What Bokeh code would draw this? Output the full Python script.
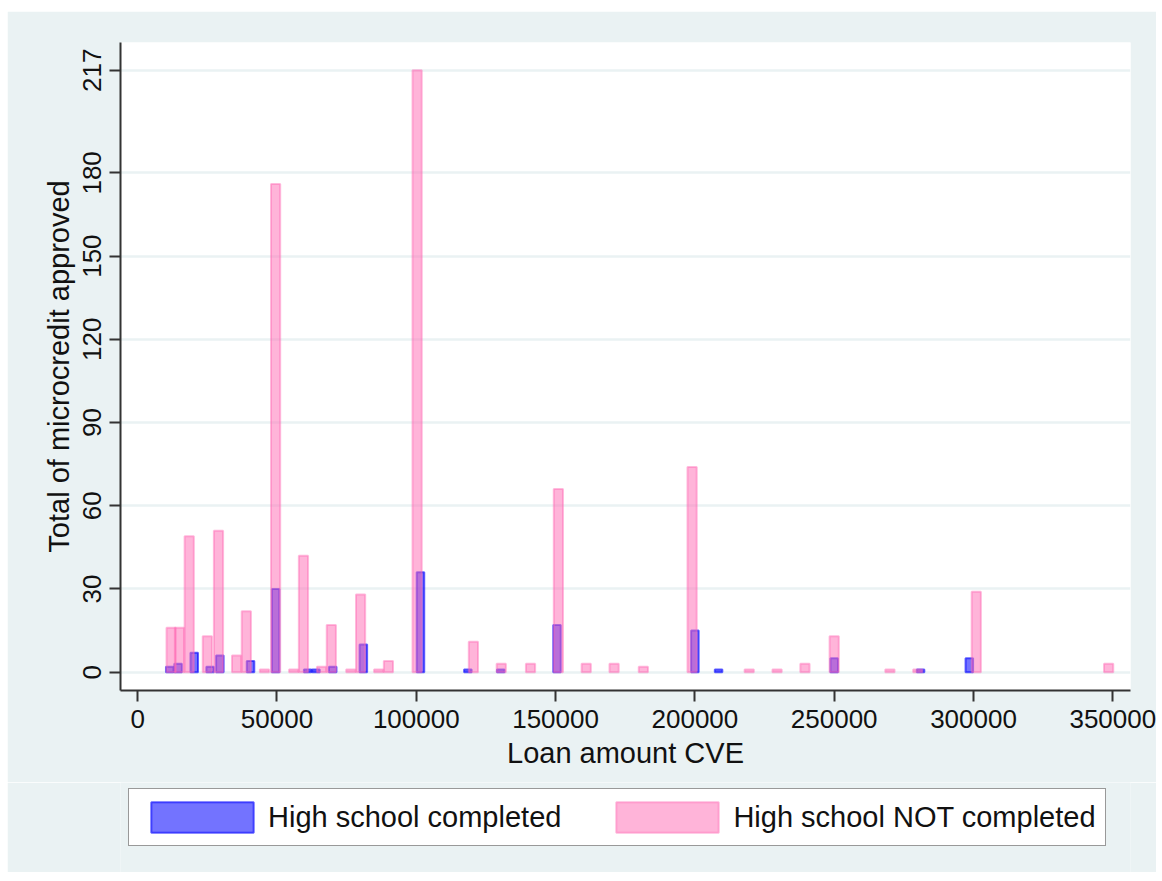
from bokeh.plotting import figure
from bokeh.layouts import column
from bokeh.models import FixedTicker, Legend, LegendItem, Range1d, NumeralTickFormatter
from bokeh.embed import file_html
from bokeh.resources import INLINE

# High school NOT completed (pink)
not_x = [12000, 15000, 18500, 25000, 29000, 35500, 39000, 45500, 49500, 56000,
         59500, 66000, 69500, 76500, 80000, 86500, 90000, 100300, 120500, 130500,
         141000, 151000, 161000, 171000, 181500, 199000, 219500, 229500, 239500,
         250000, 270000, 280000, 301000, 348500]
not_n = [16, 16, 49, 13, 51, 6, 22, 1, 176, 1,
         42, 2, 17, 1, 28, 1, 4, 217, 11, 3,
         3, 66, 3, 3, 2, 74, 1, 1, 3,
         13, 1, 1, 29, 3]

# High school completed (blue)
comp_x = [11500, 14500, 20300, 26000, 29500, 40500, 49500, 61000, 64000, 70000,
          81000, 101500, 118500, 130300, 150500, 200000, 208500, 250000, 281000, 298500]
comp_n = [2, 3, 7, 2, 6, 4, 30, 1, 1, 2,
          10, 36, 1, 1, 17, 15, 1, 5, 1, 5]

x_ticks = [0, 50000, 100000, 150000, 200000, 250000, 300000, 350000]
y_ticks = [0, 30, 60, 90, 120, 150, 180, 217]

FONT = "Liberation Sans"
BG = "#eaf2f3"
BLUE_STYLE = dict(fill_color="#0000ff", fill_alpha=0.55, line_color="#0000ff", line_alpha=0.6, line_width=2)
PINK_STYLE = dict(fill_color="#ff69b4", fill_alpha=0.5, line_color="#ff69b4", line_alpha=0.45, line_width=2)

p = figure(width=1149, height=771, output_backend="svg", toolbar_location=None,
           x_range=Range1d(-6170, 356350), y_range=Range1d(-6.6, 227.0),
           min_border_left=113, min_border_right=26, min_border_top=31, min_border_bottom=92)

p.border_fill_color = BG
p.background_fill_color = "white"
p.outline_line_color = None

blue = p.vbar(x=comp_x, top=comp_n, bottom=0, width=2700, **BLUE_STYLE)
pink = p.vbar(x=not_x, top=not_n, bottom=0, width=3300, **PINK_STYLE)

p.xgrid.visible = False
p.ygrid.ticker = FixedTicker(ticks=y_ticks)
p.ygrid.grid_line_color = BG
p.ygrid.grid_line_width = 2.5

p.xaxis.ticker = FixedTicker(ticks=x_ticks)
p.yaxis.ticker = FixedTicker(ticks=y_ticks)
p.xaxis.formatter = NumeralTickFormatter(format="0")
p.xaxis.minor_tick_line_color = None
p.yaxis.minor_tick_line_color = None
p.yaxis.major_label_orientation = "vertical"

for ax in (p.xaxis[0], p.yaxis[0]):
    ax.axis_line_color = "#333333"
    ax.axis_line_width = 2
    ax.major_tick_line_color = "#333333"
    ax.major_tick_line_width = 2
    ax.major_tick_out = 11
    ax.major_tick_in = 0
    ax.major_label_text_font = FONT
    ax.major_label_text_font_size = "26px"
    ax.major_label_text_color = "#111111"
    ax.axis_label_text_font = FONT
    ax.axis_label_text_font_size = "29px"
    ax.axis_label_text_font_style = "normal"
    ax.axis_label_text_color = "#111111"
    ax.major_label_standoff = 8

p.xaxis.axis_label = "Loan amount CVE"
p.yaxis.axis_label = "Total of microcredit approved"
p.xaxis.axis_label_standoff = 6
p.yaxis.axis_label_standoff = 6

# Legend strip below the chart
lg = figure(width=1149, height=90, output_backend="svg", toolbar_location=None,
            x_axis_type=None, y_axis_type=None, x_range=Range1d(0, 1), y_range=Range1d(0, 1),
            min_border_left=113, min_border_right=26, min_border_top=0, min_border_bottom=0)
lg.border_fill_color = BG
lg.background_fill_color = BG
lg.outline_line_color = None
lg.xgrid.visible = False
lg.ygrid.visible = False
# hidden legend proxies
lb = lg.vbar(x=[0.5], top=[1], width=0.1, visible=False, **BLUE_STYLE)
lp = lg.vbar(x=[0.5], top=[1], width=0.1, visible=False, **PINK_STYLE)

legend = Legend(items=[LegendItem(label="High school completed", renderers=[lb]),
                       LegendItem(label="High school NOT completed", renderers=[lp])],
                orientation="horizontal", location=(8, 26))
legend.glyph_width = 128
legend.glyph_height = 38
legend.label_standoff = 2
legend.spacing = 42
legend.padding = 9
legend.margin = 0
legend.inactive_fill_alpha = 0
legend.label_text_font = FONT
legend.label_text_font_size = "29px"
legend.label_text_color = "#111111"
legend.border_line_color = "#333333"
legend.border_line_width = 1.5
legend.background_fill_color = "white"
legend.background_fill_alpha = 1
lg.add_layout(legend, "center")

layout = column(p, lg, spacing=0)
layout.margin = (11, 0, 0, 7)
open("out.html", "w").write(file_html(layout, INLINE))
